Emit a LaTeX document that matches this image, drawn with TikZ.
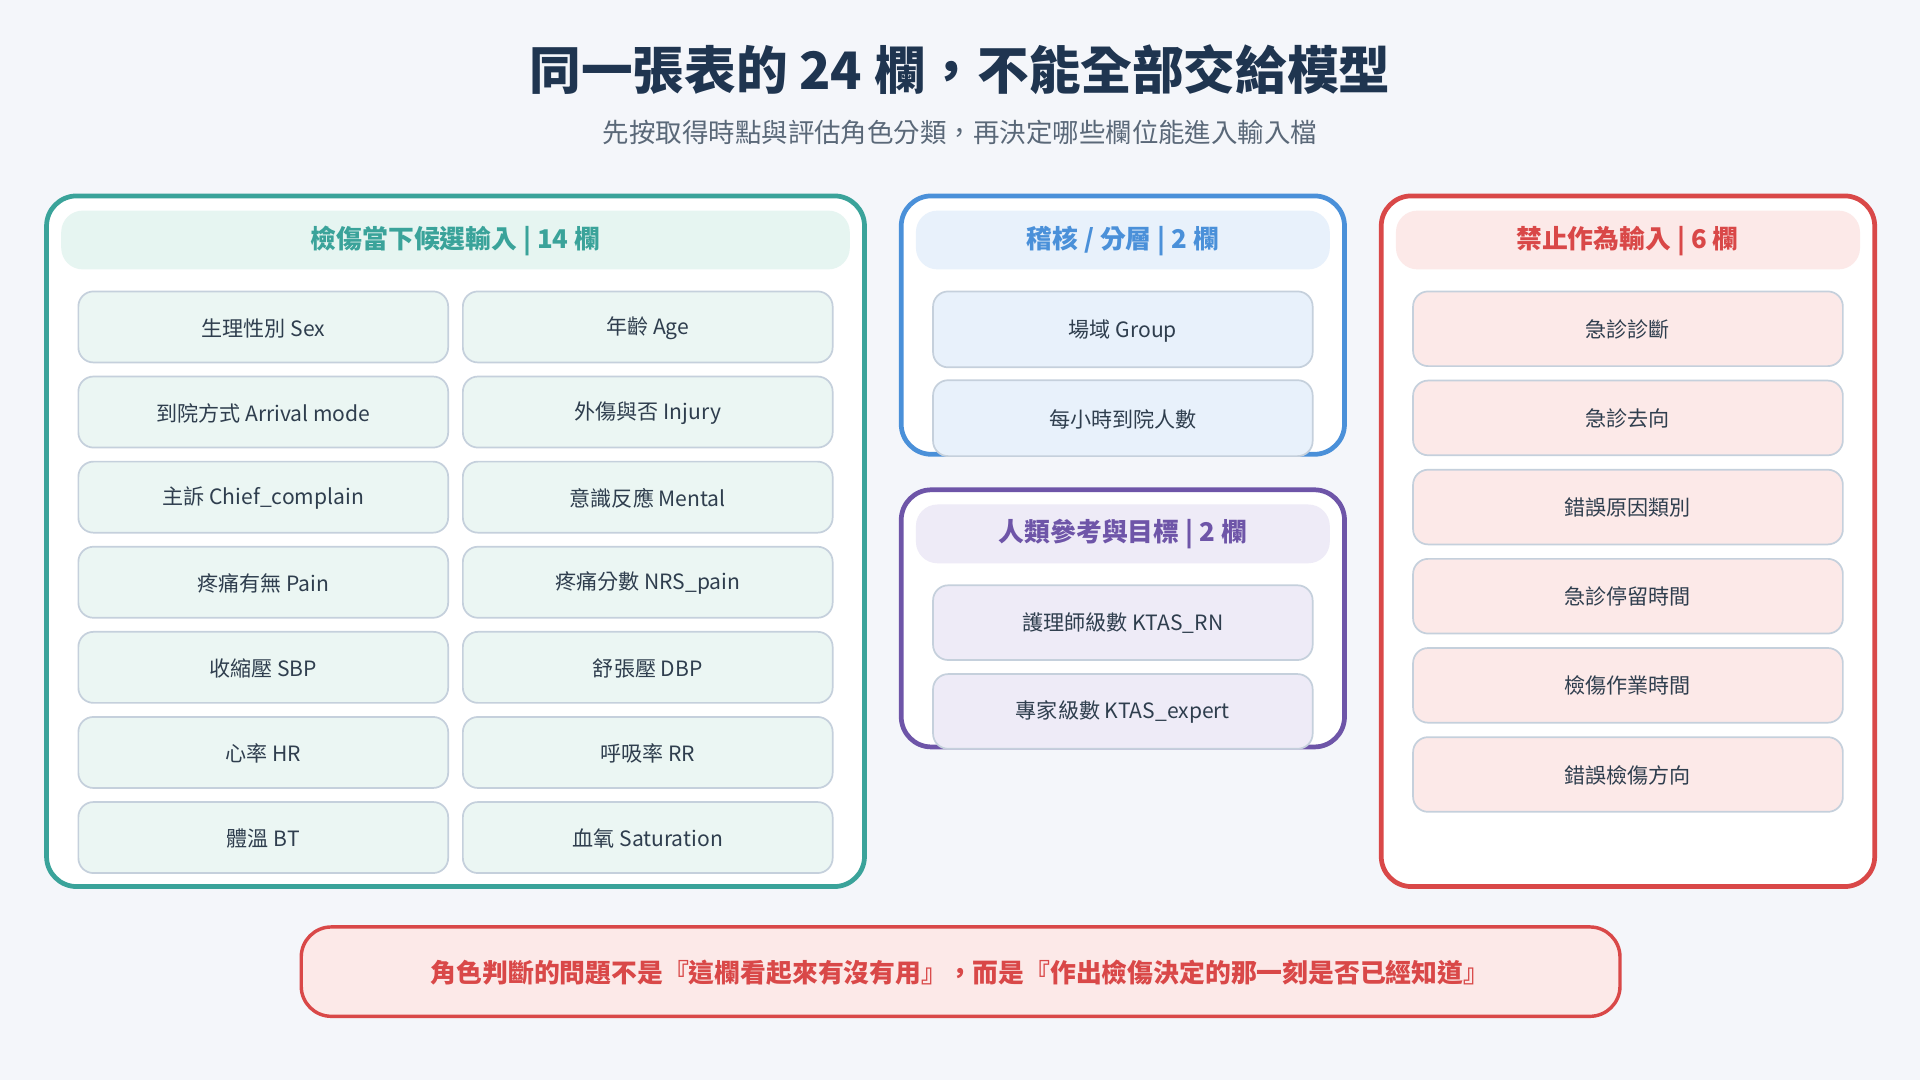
\documentclass[tikz,border=0pt]{standalone}
\usepackage{fontspec}
\setmainfont{Noto Sans CJK TC}
\usetikzlibrary{positioning}
\definecolor{bgc}{HTML}{F4F6FA}
\definecolor{titlec}{HTML}{1F3550}
\definecolor{subc}{HTML}{5A6878}
\definecolor{tealc}{HTML}{3AA39A}
\definecolor{tealf}{HTML}{E6F5F1}
\definecolor{tealcell}{HTML}{EBF6F3}
\definecolor{bluec}{HTML}{4A90D9}
\definecolor{bluef}{HTML}{E8F1FB}
\definecolor{purc}{HTML}{6E55A8}
\definecolor{purf}{HTML}{EEEBF7}
\definecolor{redc}{HTML}{D94848}
\definecolor{redf}{HTML}{FCE9E8}
\definecolor{cellline}{HTML}{C5D0DC}
\definecolor{cellt}{HTML}{2F3E4E}
\begin{document}
\begin{tikzpicture}[x=0.02cm,y=-0.02cm,
  panel/.style={draw=#1, line width=2.2pt, fill=white, rounded corners=14pt},
  head/.style={fill=#1, rounded corners=10pt},
  cell/.style={draw=cellline, line width=0.8pt, fill=#1, rounded corners=7pt},
  htext/.style={font=\bfseries\fontsize{12}{14}\selectfont, text=#1},
  ctext/.style={font=\fontsize{9.8}{12}\selectfont, text=cellt}]
\fill[bgc] (0,0) rectangle (1568,882);
\useasboundingbox (0,0) rectangle (1568,882);
% title
\node[font=\bfseries\fontsize{24}{28}\selectfont, text=titlec] (title) at (784,57) {同一張表的 24 欄，不能全部交給模型};
\node[font=\fontsize{12.3}{14}\selectfont, text=subc] (subtitle) at (784,108) {先按取得時點與評估角色分類，再決定哪些欄位能進入輸入檔};
% panels
\draw[panel=tealc] (38,160) rectangle (706,724);
\fill[head=tealf] (50,172) rectangle (694,220);
\node[htext=tealc] (tealhead) at (372,197) {檢傷當下候選輸入 | 14 欄};
\draw[panel=bluec] (736,160) rectangle (1098,371);
\fill[head=bluef] (748,172) rectangle (1086,220);
\node[htext=bluec] (bluehead) at (917,197) {稽核 / 分層 | 2 欄};
\draw[panel=purc] (736,400) rectangle (1098,610);
\fill[head=purf] (748,412) rectangle (1086,460);
\node[htext=purc] (purhead) at (917,436) {人類參考與目標 | 2 欄};
\draw[panel=redc] (1128,160) rectangle (1531,724);
\fill[head=redf] (1140,172) rectangle (1519,220);
\node[htext=redc] (redhead) at (1329,197) {禁止作為輸入 | 6 欄};
% teal cells
\foreach \a/\b [count=\i from 0] in {生理性別 Sex/年齡 Age, 到院方式 Arrival mode/外傷與否 Injury,
  主訴 Chief\_complain/意識反應 Mental, 疼痛有無 Pain/疼痛分數 NRS\_pain, 收縮壓 SBP/舒張壓 DBP,
  心率 HR/呼吸率 RR, 體溫 BT/血氧 Saturation}{
  \pgfmathsetmacro{\yt}{238+69.5*\i}
  \draw[cell=tealcell] (64,\yt) rectangle (366,\yt+58);
  \node[ctext] (ta\i) at (215,\yt+30) {\a};
  \draw[cell=tealcell] (378,\yt) rectangle (680,\yt+58);
  \node[ctext] (tb\i) at (529,\yt+30) {\b};
}
% blue cells
\foreach \t [count=\i from 0] in {場域 Group, 每小時到院人數}{
  \pgfmathsetmacro{\yt}{238+72.5*\i}
  \draw[cell=bluef] (762,\yt) rectangle (1072,\yt+62);
  \node[ctext] (bc\i) at (917,\yt+32) {\t};
}
% purple cells
\foreach \t [count=\i from 0] in {護理師級數 KTAS\_RN, 專家級數 KTAS\_expert}{
  \pgfmathsetmacro{\yt}{478+72.5*\i}
  \draw[cell=purf] (762,\yt) rectangle (1072,\yt+61);
  \node[ctext] (pc\i) at (917,\yt+31) {\t};
}
% red cells
\foreach \t [count=\i from 0] in {急診診斷, 急診去向, 錯誤原因類別, 急診停留時間, 檢傷作業時間, 錯誤檢傷方向}{
  \pgfmathsetmacro{\yt}{238+72.8*\i}
  \draw[cell=redf] (1154,\yt) rectangle (1505,\yt+61);
  \node[ctext] (rc\i) at (1329,\yt+31) {\t};
}
% note
\draw[draw=redc, line width=1.6pt, fill=redf, rounded corners=14pt] (246,757) rectangle (1323,830);
\node[htext=redc] (note) at (784,794) {角色判斷的問題不是『這欄看起來有沒有用』，而是『作出檢傷決定的那一刻是否已經知道』};
\end{tikzpicture}
\end{document}
